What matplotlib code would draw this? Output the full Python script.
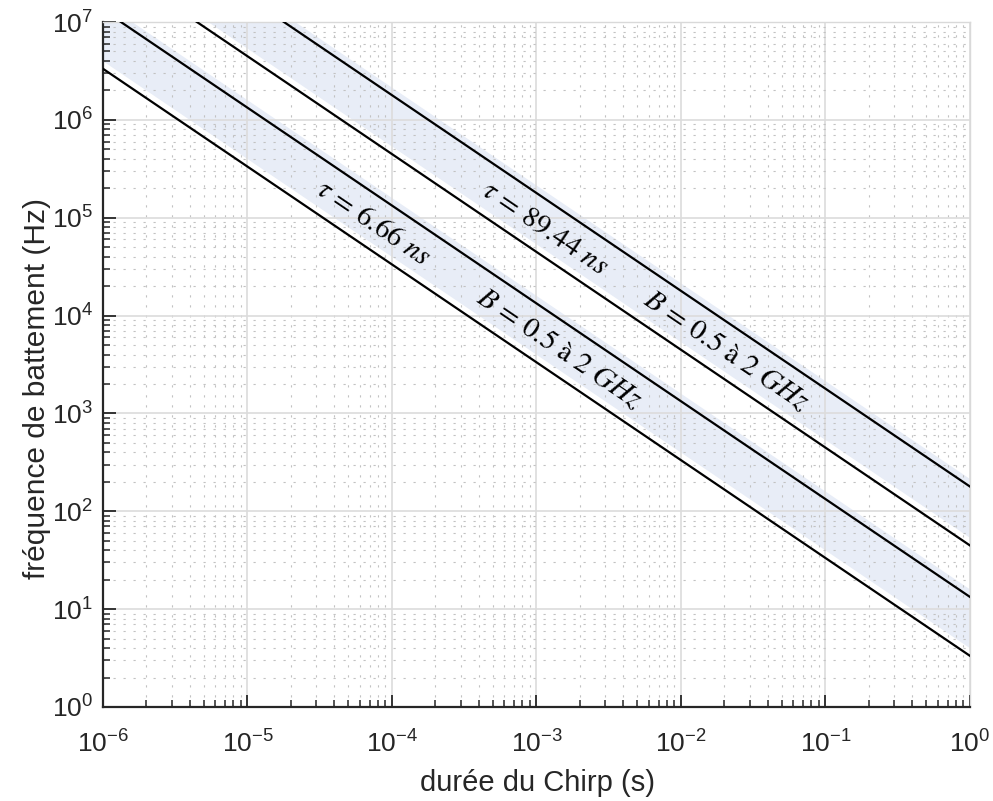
import numpy as np
import matplotlib
matplotlib.use("Agg")
import matplotlib.pyplot as plt
from matplotlib.ticker import LogLocator, NullFormatter

# data
tau_ns = [6.66, 89.44]          # delays (ns)
B_GHz = [0.5, 2.0]              # bandwidth range (GHz)
T = np.logspace(-6, 0, 200)      # chirp duration (s)
tau_labels = [r"$\tau\,=\,6.66\ ns$", r"$\tau\,=\,89.44\ ns$"]
B_label = r"$B\,=\,0.5\ \mathrm{à}\ 2\ GHz$"
tau_label_x = [10 ** -4.125, 10 ** -2.941]   # chirp durations where labels sit
B_label_x = [10 ** -2.844, 10 ** -1.689]

plt.rcParams['mathtext.fontset'] = 'stix'
plt.rcParams['font.family'] = ['Liberation Sans', 'DejaVu Sans']

fig = plt.figure(figsize=(9.93, 8.01), dpi=100)
ax = fig.add_axes([0.1037, 0.1174, 0.8731, 0.8551])
ax.set_xscale('log')
ax.set_yscale('log')
ax.set_xlim(1e-6, 1)
ax.set_ylim(1, 1e7)

band_color = '#e8edf7'
band_shift = 1.2
for tau in tau_ns:
    f_lo = B_GHz[0] * 1e9 * tau * 1e-9 / T
    f_hi = B_GHz[1] * 1e9 * tau * 1e-9 / T
    ax.fill_between(T, f_lo * band_shift, f_hi * band_shift, color=band_color, lw=0, zorder=0.5)
    ax.plot(T, f_lo, color='black', lw=1.6, zorder=3)
    ax.plot(T, f_hi, color='black', lw=1.6, zorder=3)

# grid
ax.grid(True, which='major', color='#dcdcdc', lw=1.2, ls='-', zorder=0)
ax.grid(True, which='minor', color='#c2c2c2', lw=0.8, ls=(0, (2, 7)), zorder=0)
ax.set_axisbelow(True)

ax.xaxis.set_major_locator(LogLocator(base=10, numticks=10))
ax.yaxis.set_major_locator(LogLocator(base=10, numticks=10))
ax.xaxis.set_minor_locator(LogLocator(base=10, subs=np.arange(2, 10), numticks=100))
ax.yaxis.set_minor_locator(LogLocator(base=10, subs=np.arange(2, 10), numticks=100))
ax.xaxis.set_minor_formatter(NullFormatter())
ax.yaxis.set_minor_formatter(NullFormatter())

ax.tick_params(which='both', direction='in', colors='#262626', labelsize=19,
               top=False, right=False)
ax.tick_params(which='major', length=9, width=1.3)
ax.tick_params(which='minor', length=5, width=1.1)
ax.tick_params(axis='x', which='major', pad=17)
ax.tick_params(axis='y', which='major', pad=7)

for s in ['left', 'bottom']:
    ax.spines[s].set_color('#262626')
    ax.spines[s].set_linewidth(1.6)
for s in ['top', 'right']:
    ax.spines[s].set_color('#d9d9d9')
    ax.spines[s].set_linewidth(1.0)

ax.set_xlabel('durée du Chirp (s)', fontsize=21, color='#262626')
ax.set_ylabel('fréquence de battement (Hz)', fontsize=21.5, color='#262626')
ax.xaxis.set_label_coords(0.501, -0.090)
ax.yaxis.set_label_coords(-0.060, 0.465)

# text annotations, rotated along lines
fig.canvas.draw()
p1 = ax.transData.transform((1e-4, 1e3))
p2 = ax.transData.transform((1e-3, 1e2))
angle = np.degrees(np.arctan2(p2[1] - p1[1], p2[0] - p1[0]))

for tau, lab, xt, xb in zip(tau_ns, tau_labels, tau_label_x, B_label_x):
    for x, txt in ((xt, lab), (xb, B_label)):
        y = np.sqrt(B_GHz[0] * B_GHz[1]) * tau / x
        ax.text(x, y, txt, rotation=angle, rotation_mode='anchor', ha='center', va='center',
                fontsize=21, color='black', zorder=4)

fig.savefig('out.png', dpi=100)
